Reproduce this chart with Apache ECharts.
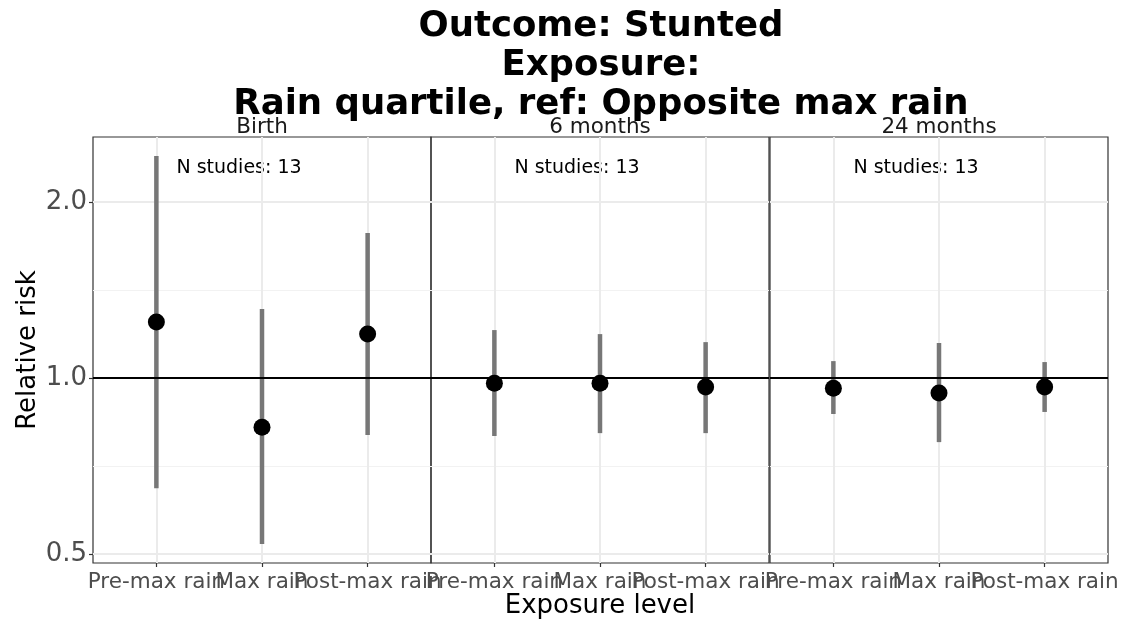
<!DOCTYPE html>
<html>
<head>
<meta charset="utf-8">
<script src="https://cdn.jsdelivr.net/npm/echarts@6/dist/echarts.min.js"></script>
<style>
  html, body { margin: 0; padding: 0; background: #fff; }
  #chart { width: 1126px; height: 626px; }
</style>
</head>
<body>
<div id="chart"></div>
<script>
// exposure levels (x categories) and facet panels
const categories = ['Pre-max rain', 'Max rain', 'Post-max rain'];
const panels = ['Birth', '6 months', '24 months'];
const nStudies = [13, 13, 13];

// relative risk estimate and 95% CI, one row per panel
const estimate = [
    [1.247, 0.824, 1.189],
    [0.980, 0.980, 0.965],
    [0.961, 0.943, 0.965],
];
const lower = [
    [0.648, 0.520, 0.799],
    [0.796, 0.805, 0.805],
    [0.868, 0.777, 0.875],
];
const upper = [
    [2.397, 1.312, 1.770],
    [1.208, 1.189, 1.152],
    [1.069, 1.148, 1.065],
];
const yTicks = [0.5, 1, 2];
const yMinor = [Math.SQRT1_2, Math.SQRT2];
const xTicks = [1, 2, 3];
// outer labels on the main axis, middle one on a twin axis so the
// overlapping labels are not dropped
const xLabelsOuter = [1, 3];
const xLabelsMid = [2];

const chart = echarts.init(document.getElementById('chart'));
const FONT = 'DejaVu Sans';
const gridLeft = [93, 431, 770];
const gridW = 338;
const gridTop = 137;
const gridH = 426;
const Y_MIN = 0.4827, Y_MAX = 2.584;

const grids = [], xAxes = [], yAxes = [], series = [], graphics = [];
const labelStyle = { color: '#4d4d4d', fontFamily: FONT, fontSize: 21.5 };
const catName = v => categories[Math.round(v) - 1] || '';

panels.forEach((p, i) => {
    grids.push({
        left: gridLeft[i], top: gridTop, width: gridW, height: gridH,
        show: true, borderColor: '#333', borderWidth: 1.2, backgroundColor: 'transparent'
    });
    xAxes.push({
        type: 'value', gridIndex: i, min: 0.4, max: 3.6, position: 'bottom',
        axisLine: { show: false },
        axisTick: { show: true, customValues: xTicks, length: 4, lineStyle: { color: '#333', width: 1.2 } },
        axisLabel: Object.assign({ customValues: xLabelsOuter, margin: 8, formatter: catName }, labelStyle),
        splitLine: { show: true, lineStyle: { color: '#ebebeb', width: 2 } },
        z: 0
    });
    xAxes.push({
        type: 'value', gridIndex: i, min: 0.4, max: 3.6, position: 'top', offset: -gridH,
        axisLine: { show: false },
        axisTick: { show: false, customValues: xLabelsMid },
        axisLabel: Object.assign({ customValues: xLabelsMid, inside: true, margin: 8, formatter: catName }, labelStyle),
        splitLine: { show: false },
        z: 0
    });
    // major y axis
    yAxes.push({
        type: 'log', logBase: 2, gridIndex: i, min: Y_MIN, max: Y_MAX, position: 'left',
        axisLine: { show: false },
        axisTick: { show: i === 0, customValues: yTicks, length: 4, lineStyle: { color: '#333', width: 1.2 } },
        axisLabel: {
            show: i === 0, customValues: yTicks, margin: 6,
            formatter: v => v.toFixed(1),
            color: '#4d4d4d', fontFamily: FONT, fontSize: 26
        },
        splitLine: { show: true, lineStyle: { color: '#ebebeb', width: 2 } },
        z: 0
    });
    // minor gridlines
    yAxes.push({
        type: 'log', logBase: 2, gridIndex: i, min: Y_MIN, max: Y_MAX, position: 'right',
        axisLine: { show: false },
        axisTick: { show: false, customValues: yMinor },
        axisLabel: { show: false, customValues: yMinor },
        splitLine: { show: true, lineStyle: { color: '#f2f2f2', width: 1 } },
        z: 0
    });

    series.push({
        type: 'custom', xAxisIndex: 2 * i, yAxisIndex: 2 * i, z: 2,
        data: categories.map((c, j) => [j + 1, lower[i][j], upper[i][j]]),
        encode: { x: 0, y: [1, 2] },
        renderItem: (params, api) => {
            const a = api.coord([api.value(0), api.value(1)]);
            const b = api.coord([api.value(0), api.value(2)]);
            return {
                type: 'line',
                shape: { x1: a[0], y1: a[1], x2: b[0], y2: b[1] },
                style: { stroke: '#777777', lineWidth: 4.5 }
            };
        },
        markLine: {
            silent: true, symbol: 'none', animation: false,
            label: { show: false },
            lineStyle: { color: '#000', width: 2, type: 'solid' },
            data: [{ yAxis: 1 }]
        }
    });
    series.push({
        type: 'scatter', xAxisIndex: 2 * i, yAxisIndex: 2 * i, z: 4,
        symbolSize: 17,
        itemStyle: { color: '#000', opacity: 1 },
        data: categories.map((c, j) => [j + 1, estimate[i][j]])
    });

    // facet strip label
    graphics.push({
        type: 'text', x: gridLeft[i] + gridW / 2, y: 127,
        style: { text: p, fontFamily: FONT, fontSize: 21.5, fill: '#1a1a1a',
                 textAlign: 'center', textVerticalAlign: 'middle' }
    });
    graphics.push({
        type: 'text', x: gridLeft[i] + 146, y: 168,
        style: { text: 'N studies: ' + nStudies[i], fontFamily: FONT, fontSize: 19, fill: '#000',
                 textAlign: 'center', textVerticalAlign: 'middle' }
    });
});

graphics.push({
    type: 'text', x: 28, y: 350, rotation: Math.PI / 2,
    style: { text: 'Relative risk', fontFamily: FONT, fontSize: 26, fill: '#000',
             textAlign: 'center', textVerticalAlign: 'middle' }
});
graphics.push({
    type: 'text', x: 600, y: 606,
    style: { text: 'Exposure level', fontFamily: FONT, fontSize: 26, fill: '#000',
             textAlign: 'center', textVerticalAlign: 'middle' }
});

chart.setOption({
    backgroundColor: '#fff',
    animation: false,
    title: {
        text: 'Outcome: Stunted\nExposure:\nRain quartile, ref: Opposite max rain',
        left: 596, top: 2, textAlign: 'center',
        textStyle: { fontFamily: FONT, fontSize: 35.5, fontWeight: 'bold', color: '#000', lineHeight: 39 }
    },
    grid: grids,
    xAxis: xAxes,
    yAxis: yAxes,
    series: series,
    graphic: graphics
});
</script>
</body>
</html>
